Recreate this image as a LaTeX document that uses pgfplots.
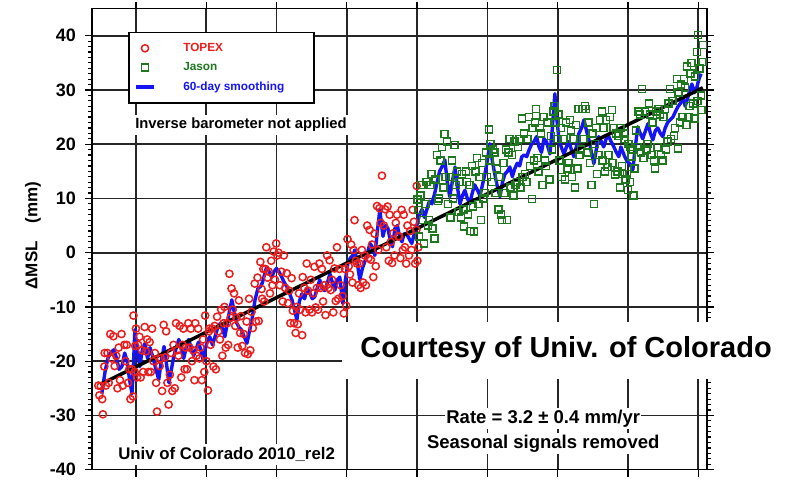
\documentclass[border=0pt]{standalone}
\usepackage{fontspec}
\setmainfont{Liberation Sans}
\usepackage{pgfplots}
\pgfplotsset{compat=1.18}
\definecolor{topexred}{RGB}{235,30,30}
\definecolor{jasongreen}{RGB}{30,120,30}
\definecolor{smoothblue}{RGB}{20,20,245}
\begin{document}
\begin{tikzpicture}
\begin{axis}[
  scale only axis, width=615pt, height=461pt,
  xmin=1992.75, xmax=2010.25, ymin=-40, ymax=45,
  clip=false,
  axis line style={line width=1.6pt},
  xtick={1994,1996,...,2010}, xticklabels={}, minor x tick num=3,
  ytick={-40,-30,...,40}, yticklabels={-40,-30,-20,-10,0,10,20,30,40}, minor y tick num=9,
  tick align=outside, major tick length=7pt, minor tick length=4pt,
  every tick/.style={black, line width=1.2pt},
  grid=major, grid style={line width=1.7pt, black!85}, major grid style={line width=1.7pt, black!85},
  yticklabel style={font=\bfseries\fontsize{18}{18}\selectfont, inner xsep=9pt, inner ysep=1pt},
  ylabel={ΔMSL\hspace{18pt}(mm)},
  ylabel style={font=\bfseries\fontsize{17}{17}\selectfont, at={(rel axis cs:-0.0959,0.508)}, anchor=center},
  legend style={at={(rel axis cs:0.0585,0.9501)}, anchor=north west, draw=black, line width=1.6pt, fill=white,
    font=\bfseries\fontsize{11.8}{12}\selectfont, inner xsep=6pt, inner ysep=9pt, row sep=5.5pt, column sep=26pt},
  legend cell align=left,
]
\addplot[only marks, mark=o, mark size=3.6pt, topexred, line width=1.5pt] coordinates {
(1992.93,-24.5) (1992.96,-26.3) (1993.00,-24.6) (1993.04,-27.0) (1993.06,-29.8)
(1993.10,-21.0) (1993.11,-18.5) (1993.145,-24.5) (1993.19,-18.5) (1993.225,-24) (1993.27,-15)
(1993.305,-19.5) (1993.36,-15.4) (1993.395,-20.9) (1993.44,-19) (1993.475,-25) (1993.51,-17.5) (1993.545,-23.5)
(1993.59,-15) (1993.625,-24.5) (1993.67,-17) (1993.705,-20) (1993.74,-17) (1993.775,-24) (1993.81,-21.5)
(1993.845,-27) (1993.88,-21.5) (1993.915,-26.5) (1993.93,-11.6) (1993.965,-22) (1993.98,-17.2) (1994.0,-14)
(1994.03,-23) (1994.065,-17) (1994.10,-15.5) (1994.135,-23) (1994.17,-18) (1994.205,-22) (1994.25,-13.7)
(1994.285,-18.2) (1994.32,-16) (1994.355,-22) (1994.39,-16.5) (1994.425,-22) (1994.46,-14) (1994.495,-20)
(1994.54,-18.5) (1994.575,-24) (1994.60,-29.3) (1994.675,-20.9) (1994.71,-19.5) (1994.745,-25.5) (1994.79,-13.3)
(1994.825,-19.3) (1994.86,-14.5) (1994.895,-24) (1994.93,-28) (1994.965,-22.5) (1995.0,-18.5) (1995.035,-25.5)
(1995.07,-17) (1995.105,-25) (1995.14,-13) (1995.175,-18) (1995.21,-19) (1995.245,-13.5) (1995.29,-23)
(1995.325,-17) (1995.35,-14) (1995.385,-21.5) (1995.42,-17.5) (1995.455,-21.5) (1995.49,-13) (1995.525,-17.5)
(1995.56,-14) (1995.595,-20) (1995.63,-18) (1995.665,-23.5) (1995.69,-13) (1995.725,-19) (1995.77,-14)
(1995.805,-19.5) (1995.84,-17.5) (1995.875,-23.5) (1995.91,-16) (1995.945,-22) (1995.97,-11.6) (1996.005,-20)
(1996.05,-25.4) (1996.075,-14.5) (1996.09,-14) (1996.125,-17) (1996.17,-14) (1996.205,-21) (1996.24,-13.5)
(1996.275,-21.5) (1996.31,-11.8) (1996.345,-14.5) (1996.39,-16) (1996.425,-10.5) (1996.46,-19) (1996.495,-13)
(1996.52,-10) (1996.555,-17.5) (1996.59,-13) (1996.625,-17) (1996.66,-3.9) (1996.695,-12) (1996.72,-6.6)
(1996.755,-10.5) (1996.79,-7.5) (1996.825,-13.5) (1996.86,-12) (1996.895,-17.5) (1996.93,-8.8) (1996.965,-14.8)
(1996.99,-11.7) (1997.025,-17.2) (1997.07,-15) (1997.105,-18.5) (1997.15,-12.7) (1997.185,-18.7) (1997.22,-8.5)
(1997.255,-18) (1997.29,-10.9) (1997.325,-13.9) (1997.38,-5.7) (1997.415,-12.7) (1997.46,-4.6) (1997.495,-12.6)
(1997.54,-1.7) (1997.575,-6.7) (1997.59,-8.5) (1997.625,-3) (1997.65,-9) (1997.685,-3) (1997.71,1)
(1997.745,-4.6) (1997.78,-3.5) (1997.815,-7.5) (1997.85,-1.5) (1997.885,-6) (1997.92,0.2) (1997.955,-5)
(1997.99,1.7) (1998.025,-0.5) (1998.06,0) (1998.095,-6) (1998.14,-3.5) (1998.175,-9) (1998.21,-0.5)
(1998.245,-6.5) (1998.29,-3.8) (1998.325,-9.3) (1998.36,-7) (1998.395,-13) (1998.43,-4.7) (1998.465,-10.7)
(1998.50,-13) (1998.545,-14.8) (1998.57,-10) (1998.605,-13.2) (1998.64,-7.5) (1998.675,-10.5) (1998.73,-15.2)
(1998.745,-4.5) (1998.79,-6.5) (1998.825,-11) (1998.86,-2) (1998.895,-7) (1998.94,-10.5) (1998.975,-5)
(1999.01,-11) (1999.045,-7.5) (1999.08,-2.6) (1999.115,-10.1) (1999.15,-6.5) (1999.185,-10.5) (1999.22,-2)
(1999.255,-6.5) (1999.29,-3) (1999.325,-9) (1999.36,-6) (1999.395,-11.5) (1999.44,-0.5) (1999.475,-6.5)
(1999.51,-1.4) (1999.545,-6.9) (1999.58,-5) (1999.615,-11) (1999.65,-2.9) (1999.685,-8.9) (1999.72,1)
(1999.755,-8.5) (1999.79,-3) (1999.825,-6) (1999.88,-8) (1999.915,-11.2) (1999.95,-3) (1999.985,-9.8)
(2000.02,2.5) (2000.055,-2.5) (2000.09,-4) (2000.125,1.5) (2000.16,-5.5) (2000.195,0.5) (2000.22,6)
(2000.255,-1.5) (2000.29,-2) (2000.325,-6) (2000.36,-2) (2000.395,-6.5) (2000.43,0.5) (2000.465,-5.5)
(2000.51,-0.5) (2000.545,-6) (2000.58,5) (2000.615,-1) (2000.65,4.2) (2000.685,-1.3) (2000.72,1.5)
(2000.755,-4.5) (2000.79,3.5) (2000.825,-2.5) (2000.86,8.6) (2000.895,0.5) (2000.93,8.2) (2000.965,5.5)
(2001.00,14.2) (2001.055,5) (2001.09,8) (2001.125,1) (2001.16,8.5) (2001.195,-1.5) (2001.22,7)
(2001.255,2) (2001.29,-1.9) (2001.325,3.6) (2001.36,-0.5) (2001.395,5.5) (2001.43,7) (2001.465,3)
(2001.49,3) (2001.525,-1) (2001.56,7.9) (2001.595,0.5) (2001.62,7) (2001.655,1) (2001.69,-2)
(2001.725,5) (2001.77,-0.5) (2001.805,4) (2001.84,0.5) (2001.875,7.9) (2001.91,5.7) (2001.945,-2)
(2001.98,4.2) (2001.99,12.3) (2002.01,-1.5) (2002.04,1)
};
\addlegendentry{\textcolor{topexred}{TOPEX}}
\addplot[only marks, mark=square, mark size=3.5pt, jasongreen, line width=1.5pt] coordinates {
(2002.01,9.8) (2002.035,7.9) (2002.06,3) (2002.095,10.5) (2002.13,12.5) (2002.165,6) (2002.20,1.7)
(2002.235,9) (2002.27,13) (2002.305,5) (2002.34,6) (2002.375,12.5) (2002.41,14.5) (2002.445,4.5)
(2002.49,2.6) (2002.525,13.5) (2002.56,18) (2002.595,9.5) (2002.63,10) (2002.665,17) (2002.71,19.5)
(2002.745,12) (2002.78,21.9) (2002.815,14) (2002.85,20.5) (2002.885,9) (2002.92,14) (2002.955,6.5)
(2002.99,17) (2003.025,10) (2003.07,19.9) (2003.105,12.5) (2003.14,15) (2003.175,7.5) (2003.21,13)
(2003.245,6.5) (2003.28,14.5) (2003.315,8) (2003.33,4.8) (2003.385,15) (2003.42,13) (2003.455,7)
(2003.49,12.5) (2003.525,4) (2003.56,16) (2003.595,8.5) (2003.62,3.9) (2003.665,15) (2003.71,17.5)
(2003.745,9) (2003.78,14) (2003.815,6) (2003.85,16.5) (2003.885,10) (2003.92,11) (2003.955,18.5)
(2003.99,14) (2004.04,22.7) (2004.06,17) (2004.095,20) (2004.13,13) (2004.165,19) (2004.20,18.5)
(2004.235,11) (2004.28,15.5) (2004.315,8) (2004.35,14) (2004.385,7) (2004.41,6) (2004.455,16.5)
(2004.49,11) (2004.525,19) (2004.56,6) (2004.595,18.5) (2004.63,21) (2004.665,12) (2004.70,18)
(2004.745,10.5) (2004.77,20.5) (2004.805,12.5) (2004.84,13) (2004.875,19.5) (2004.91,21) (2004.945,12)
(2004.98,24.7) (2005.005,14) (2005.04,22) (2005.075,14.5) (2005.11,13) (2005.145,21) (2005.18,25)
(2005.215,16) (2005.27,9.9) (2005.285,23) (2005.32,17) (2005.355,24) (2005.39,26.5) (2005.425,17.5)
(2005.46,15) (2005.495,23) (2005.53,22) (2005.565,12.5) (2005.60,25) (2005.645,17) (2005.67,16)
(2005.715,24) (2005.77,13.5) (2005.805,21.5) (2005.84,19) (2005.875,26) (2005.91,27) (2005.935,24)
(2005.98,33.7) (2005.995,21) (2006.02,25.5) (2006.055,17) (2006.09,23) (2006.125,14) (2006.17,21)
(2006.205,13.5) (2006.24,24) (2006.275,15.5) (2006.31,16.5) (2006.345,24.5) (2006.38,22.5) (2006.415,14)
(2006.45,21) (2006.495,12) (2006.52,23.5) (2006.565,15.5) (2006.60,26.5) (2006.625,18) (2006.67,19)
(2006.705,26.5) (2006.74,21) (2006.785,27) (2006.81,26.5) (2006.845,18.5) (2006.88,24) (2006.915,16.5)
(2006.97,12.5) (2006.99,22) (2007.03,9) (2007.065,20) (2007.09,23) (2007.125,14.5) (2007.16,18)
(2007.205,24.5) (2007.26,26) (2007.275,17) (2007.30,23) (2007.345,15) (2007.37,24.5) (2007.415,15.8)
(2007.44,18) (2007.485,25) (2007.54,26.3) (2007.555,16.5) (2007.59,23) (2007.63,14.4) (2007.66,22)
(2007.705,15) (2007.73,21.5) (2007.775,12) (2007.79,23) (2007.83,16) (2007.85,14.5) (2007.885,22)
(2007.90,21) (2007.935,13.5) (2007.97,14.5) (2008.00,11.6) (2008.01,20) (2008.06,13) (2008.075,19.5)
(2008.10,17.7) (2008.13,19) (2008.165,10.5) (2008.19,15.5) (2008.225,22.5) (2008.27,19.5) (2008.305,26)
(2008.34,25.5) (2008.375,18.5) (2008.40,30.2) (2008.445,17.5) (2008.49,26) (2008.525,19) (2008.56,20)
(2008.595,27.5) (2008.63,25.5) (2008.665,18) (2008.70,24) (2008.745,17) (2008.77,15.5) (2008.805,26)
(2008.84,19.5) (2008.875,26.5) (2008.91,25.5) (2008.945,18) (2008.98,17) (2009.015,25) (2009.05,26.5)
(2009.085,19) (2009.12,20.5) (2009.155,27.5) (2009.19,30.2) (2009.225,21) (2009.27,28) (2009.305,21.5)
(2009.34,23) (2009.39,32) (2009.42,19.2) (2009.445,29.5) (2009.48,24) (2009.515,31) (2009.55,25)
(2009.595,32) (2009.62,30.5) (2009.665,23.5) (2009.68,34.3) (2009.725,25) (2009.75,27) (2009.785,33)
(2009.81,35) (2009.845,27.5) (2009.90,24.7) (2009.915,32.5) (2009.96,37) (2009.985,28) (2009.99,40.1)
(2010.03,34) (2010.08,29) (2010.10,26.3) (2010.12,35.2) (2010.13,38.3)
};
\addlegendentry{\textcolor{jasongreen}{Jason}}
\addplot[smoothblue, line width=3.4pt, line join=round, no markers] coordinates {
(1993.03,-26) (1993.12,-22) (1993.20,-19.5) (1993.28,-18.5) (1993.37,-17.9) (1993.45,-19.5) (1993.52,-21.5)
(1993.60,-21) (1993.68,-18.5) (1993.75,-20) (1993.82,-23.5) (1993.89,-26) (1993.94,-19) (1993.97,-14.2)
(1994.04,-18) (1994.11,-21) (1994.18,-18) (1994.26,-16.7) (1994.33,-19.5) (1994.40,-17.5) (1994.47,-19)
(1994.55,-21) (1994.65,-23.4) (1994.72,-20) (1994.80,-17.3) (1994.87,-20.5) (1994.94,-24) (1995.01,-21.5)
(1995.08,-19) (1995.15,-17.5) (1995.22,-16) (1995.30,-18) (1995.36,-19.5) (1995.43,-17.5) (1995.50,-16)
(1995.57,-17.5) (1995.64,-19) (1995.70,-18) (1995.78,-16.5) (1995.85,-18) (1995.92,-20) (1995.98,-17.5)
(1996.05,-16) (1996.10,-15.5) (1996.18,-17) (1996.25,-15.5) (1996.32,-14) (1996.40,-13) (1996.47,-14)
(1996.53,-15.5) (1996.60,-13) (1996.67,-10.5) (1996.73,-8.7) (1996.80,-11) (1996.87,-13) (1996.94,-13.8)
(1997.00,-14.2) (1997.08,-15.5) (1997.16,-16.7) (1997.23,-14.5) (1997.30,-12.4) (1997.39,-8.7) (1997.47,-6.6)
(1997.55,-6.2) (1997.60,-5.5) (1997.66,-4) (1997.72,-2.6) (1997.79,-3.5) (1997.86,-4.5) (1997.93,-3.5)
(1998.00,-2.9) (1998.07,-3.5) (1998.15,-4.5) (1998.22,-5.5) (1998.30,-6.3) (1998.37,-7.5) (1998.44,-8.7)
(1998.51,-10.5) (1998.58,-12.4) (1998.65,-9) (1998.72,-7.6) (1998.80,-8.5) (1998.87,-6.5) (1998.95,-7.5)
(1999.02,-8.5) (1999.09,-8.1) (1999.16,-6.5) (1999.23,-5) (1999.30,-6.5) (1999.37,-7) (1999.45,-5.5)
(1999.52,-3.9) (1999.59,-5.5) (1999.66,-6.9) (1999.73,-5) (1999.80,-4.5) (1999.89,-9.4) (1999.96,-5)
(2000.03,-2) (2000.10,-1) (2000.17,-0.5) (2000.23,0.5) (2000.30,-2) (2000.37,-5) (2000.44,-3)
(2000.52,-1.5) (2000.59,0) (2000.66,1.7) (2000.73,1) (2000.80,-0.5) (2000.87,4) (2000.94,7.9)
(2001.03,3) (2001.10,5) (2001.17,4.5) (2001.23,2.5) (2001.30,1.1) (2001.37,4.5) (2001.44,5)
(2001.50,3) (2001.57,2) (2001.63,3.5) (2001.70,3.5) (2001.78,2.5) (2001.85,1.7) (2001.92,3.5)
(2001.99,5) (2002.07,7) (2002.14,8) (2002.21,6.5) (2002.28,8) (2002.35,9.5) (2002.42,9)
(2002.50,10.9) (2002.57,13) (2002.64,15) (2002.72,16) (2002.79,17.1) (2002.86,13) (2002.93,10.3)
(2003.00,13) (2003.08,15.8) (2003.15,12) (2003.22,9) (2003.29,10.5) (2003.36,11.5) (2003.43,10)
(2003.50,9) (2003.57,11) (2003.64,12.5) (2003.72,11.5) (2003.79,10.5) (2003.86,12.5) (2003.93,14.5)
(2004.00,17) (2004.07,20.1) (2004.14,17) (2004.21,14.5) (2004.29,12) (2004.36,10.3) (2004.43,13)
(2004.50,14.5) (2004.57,15) (2004.64,15.8) (2004.71,14) (2004.78,15.5) (2004.85,16.5) (2004.92,16)
(2004.98,17.7) (2005.05,18) (2005.12,17.7) (2005.19,19) (2005.26,20) (2005.33,20.5) (2005.40,21.4)
(2005.47,19.5) (2005.54,18.5) (2005.61,21) (2005.68,20.5) (2005.78,18.2) (2005.85,23) (2005.92,29.3)
(2005.97,25) (2006.03,21.4) (2006.10,19.5) (2006.18,18.2) (2006.25,19.5) (2006.32,20.5) (2006.39,19)
(2006.46,17.7) (2006.53,19.5) (2006.60,21.9) (2006.68,23) (2006.75,24.5) (2006.82,22.5) (2006.89,20.8)
(2006.96,18.5) (2007.03,16.4) (2007.10,19) (2007.17,21.4) (2007.24,20.5) (2007.31,19.5) (2007.38,21)
(2007.45,21.5) (2007.52,20.5) (2007.60,19.5) (2007.67,18.5) (2007.74,17.7) (2007.80,19.5) (2007.86,18.5)
(2007.91,17.7) (2007.98,16.8) (2008.05,16.4) (2008.14,15.3) (2008.20,19) (2008.28,23.2) (2008.35,22)
(2008.42,21) (2008.50,22.5) (2008.57,23.8) (2008.64,22) (2008.71,20.8) (2008.78,22.5) (2008.85,23)
(2008.92,22) (2008.99,21.4) (2009.06,23) (2009.13,24) (2009.20,24.5) (2009.28,25) (2009.35,26)
(2009.42,26.9) (2009.49,27.5) (2009.56,28.7) (2009.63,27) (2009.70,28.5) (2009.76,30) (2009.82,31.1)
(2009.89,29.5) (2009.96,30.5) (2010.02,32) (2010.08,33)
};
\addlegendentry{\textcolor{smoothblue}{60-day smoothing}\hspace*{22pt}}
\addplot[black, line width=3.5pt, forget plot] coordinates {(1992.98,-24.3) (2010.13,30.4)};
\node[fill=white, inner xsep=2pt, inner ysep=3pt, font=\bfseries\fontsize{14.8}{15}\selectfont] at (axis cs:1996.99,23.6) {Inverse barometer not applied};
\node[fill=white, inner sep=3pt, font=\bfseries\fontsize{16.8}{17}\selectfont] at (axis cs:1996.58,-37.2) {Univ of Colorado 2010\_rel2};
\node[fill=white, inner xsep=1pt, inner ysep=2pt, font=\bfseries\fontsize{18.5}{19}\selectfont] at (axis cs:2005.59,-30.6) {Rate = 3.2 ± 0.4 mm/yr};
\node[fill=white, inner xsep=1pt, inner ysep=2pt, font=\bfseries\fontsize{18.5}{19}\selectfont] at (axis cs:2005.59,-35.2) {Seasonal signals removed};
\node[fill=white, minimum width=448pt, minimum height=57pt, inner sep=0pt, font=\bfseries\fontsize{29}{29}\selectfont] at (axis cs:2006.24,-17.97) {Courtesy of Univ. of Colorado};
\coordinate (bbSW) at (rel axis cs:-0.1496,-0.0245);
\coordinate (bbNE) at (rel axis cs:1.1382,1.0187);
\end{axis}
\pgfresetboundingbox
\useasboundingbox (bbSW) rectangle (bbNE);
\end{tikzpicture}
\end{document}
